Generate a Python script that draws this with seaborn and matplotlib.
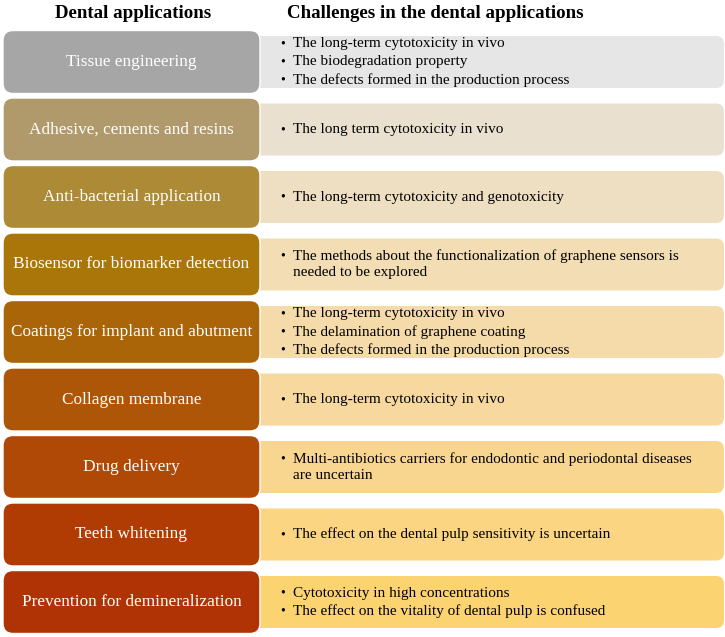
import matplotlib
matplotlib.use("Agg")
import matplotlib.pyplot as plt
from matplotlib.patches import FancyBboxPatch
import seaborn as sns

# row labels (left column)
applications = [
    "Tissue engineering",
    "Adhesive, cements and resins",
    "Anti-bacterial application",
    "Biosensor for biomarker detection",
    "Coatings for implant and abutment",
    "Collagen membrane",
    "Drug delivery",
    "Teeth whitening",
    "Prevention for demineralization",
]

# bullet points (right column); "\n" marks a wrapped continuation line
challenges = [
    ["The long-term cytotoxicity in vivo",
     "The biodegradation property",
     "The defects formed in the production process"],
    ["The long term cytotoxicity in vivo"],
    ["The long-term cytotoxicity and genotoxicity"],
    ["The methods about the functionalization of graphene sensors is\nneeded to be explored"],
    ["The long-term cytotoxicity in vivo",
     "The delamination of graphene coating",
     "The defects formed in the production process"],
    ["The long-term cytotoxicity in vivo"],
    ["Multi-antibiotics carriers for endodontic and periodontal diseases\nare uncertain"],
    ["The effect on the dental pulp sensitivity is uncertain"],
    ["Cytotoxicity in high concentrations",
     "The effect on the vitality of dental pulp is confused"],
]

left_colors = ["#A6A6A6", "#B09A6C", "#AD8A36", "#AA760A", "#A96507",
               "#AD5607", "#B04806", "#B03C04", "#AF3304"]
right_colors = ["#E6E6E6", "#EAE0D0", "#EEDFC3", "#F2DDB5", "#F5DBAA",
                "#F7D99F", "#F9D690", "#FBD581", "#FCD371"]

headers = ["Dental applications", "Challenges in the dental applications"]

sns.set_theme(style="white")
plt.rcParams["font.family"] = ["Liberation Serif", "DejaVu Serif"]

fig = plt.figure(figsize=(7.25, 6.37), dpi=100)
ax = fig.add_axes([0, 0, 1, 1])
ax.set_xlim(0, 725)
ax.set_ylim(637, 0)
ax.axis("off")

pitch = 67.5
first_center = 62

ax.text(133, 13, headers[0], ha="center", va="center", fontsize=13.6,
        fontweight="bold", color="black")
ax.text(435, 13, headers[1], ha="center", va="center", fontsize=13.6,
        fontweight="bold", color="black")

for i, (app, items) in enumerate(zip(applications, challenges)):
    cy = first_center + i * pitch
    # right panel
    ax.add_patch(FancyBboxPatch((250, cy - 26), 474, 52,
                                boxstyle="round,pad=0,rounding_size=8",
                                facecolor=right_colors[i], edgecolor="none"))
    # left panel
    ax.add_patch(FancyBboxPatch((3, cy - 31.5), 257, 63,
                                boxstyle="round,pad=0,rounding_size=10",
                                facecolor=left_colors[i], edgecolor="white",
                                linewidth=1))
    ax.text(131.5, cy, app, ha="center", va="center", fontsize=12.4,
            color="white")

    lines = []
    for item in items:
        parts = item.split("\n")
        lines.append((True, parts[0]))
        for p in parts[1:]:
            lines.append((False, p))
    gap = 18 if len(items) > 1 else 16.5
    y0 = cy - gap * (len(lines) - 1) / 2
    for k, (bullet, txt) in enumerate(lines):
        y = y0 + k * gap
        if bullet:
            ax.text(283, y, "\u2022", ha="center", va="center", fontsize=10,
                    color="black")
        ax.text(293, y, txt, ha="left", va="center", fontsize=10.95,
                color="black")

fig.savefig("out.png", dpi=100)
